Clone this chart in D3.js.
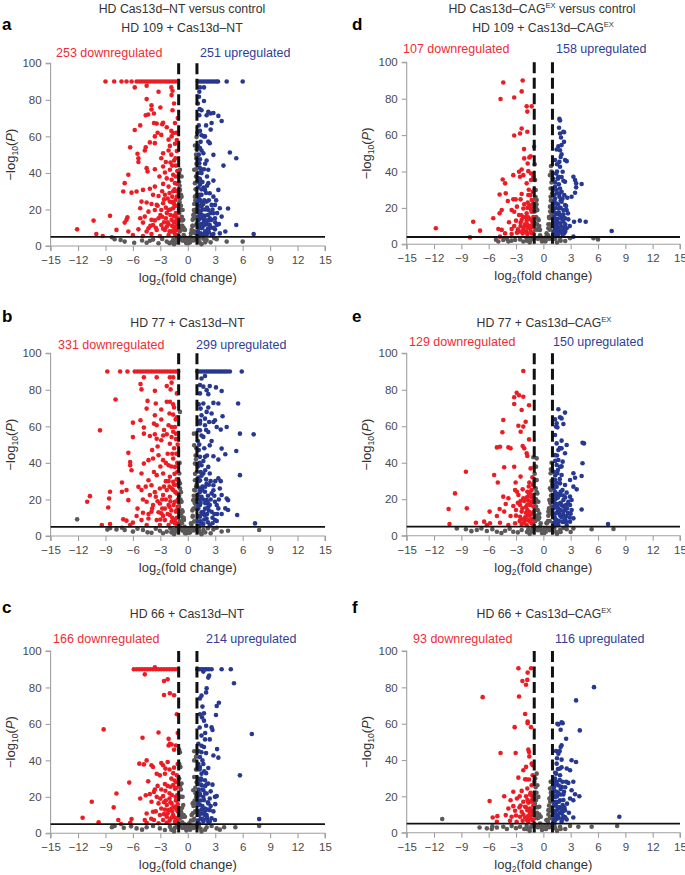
<!DOCTYPE html>
<html><head><meta charset="utf-8">
<script src="https://cdn.jsdelivr.net/npm/d3@7"></script>
<style>body{margin:0;background:#fff} svg{display:block} text{font-family:"Liberation Sans",Arial,sans-serif}</style>
</head><body><svg id="c" width="685" height="875"></svg>
<script>
// ---------------- DATA ----------------
const xTicks = [-15,-12,-9,-6,-3,0,3,6,9,12,15];
const yTicks = [0,20,40,60,80,100];
const panelLetters = ["a","b","c","d","e","f"];
const panelTitles = ["HD 109 + Cas13d–NT","HD 77 + Cas13d–NT","HD 66 + Cas13d–NT","HD 109 + Cas13d–CAG","HD 77 + Cas13d–CAG","HD 66 + Cas13d–CAG"];
const titleSup = [false,false,false,true,true,true];
const downCounts = [253,331,166,107,129,93];
const upCounts = [251,299,214,158,150,116];
const pThreshold = [5,5,5,4,5,5];
const fcThreshold = 1;
const capValue = 90;

// Panel a
const aDownCap = [-9.0,-8.05,-7.25,-6.7,-6.15,-5.6,-5.3,-5.0,-4.7,-4.4,-4.1,-3.8,-3.5,-3.2,-2.9,-2.6,-2.3,-2.0,-1.7,-1.4,-1.1];
const aUpCap = [1.1,1.35,1.6,1.85,2.1,2.35,2.6,2.85,3.1,3.3,4.25,6.0];
const aDown = [[-5.8,86.8],[-4.5,87.7],[-3.2,84.4],[-1.8,86.8],[-1.67,85],[-1.77,82.6],[-4.5,80.4],[-3.97,77],[-3.0,75.8],[-1.67,74.3],[-3.97,74.7],[-4.33,72],[-4.6,71.6],[-3.7,72.5],[-3.7,67.3],[-3.4,67],[-2.8,66.6],[-2.7,67.5],[-1.4,67.3],[-5.2,66],[-5.8,63.5],[-1.8,63],[-1.6,61.8],[-3.6,60],[-2.9,60.8],[-2.1,58.2],[-6.3,54],[-5.5,50.5],[-5.4,48],[-5.4,46],[-4.6,54],[-4.15,56.7],[-3.6,56.3],[-4.7,52.3],[-1.96,54.8],[-2.1,52.3],[-1.77,60],[-2.7,50.8],[-2.9,48],[-2.4,46],[-1.9,45.7],[-1.5,46.8],[-4.5,42.6],[-4.4,40.8],[-3.6,42],[-2.7,43.5],[-1.7,44],[-2.5,40.2],[-1.96,41.7],[-6.5,39],[-6.9,34.4],[-7.06,29.8],[-6.15,29.2],[-5.6,29.8],[-4.9,30.7],[-4.15,31.3],[-3.6,32.5],[-2.7,34],[-1.77,36.2],[-1.4,34.4],[-2.1,32.5],[-3.8,28],[-3.2,27.4],[-2.5,28],[-1.7,27],[-5.06,24.3],[-4.5,23.8],[-3.97,23],[-3.4,22.5],[-2.7,23.4],[-1.96,24.3],[-1.34,25.2],[-5.2,20.7],[-4.3,18.8],[-3.6,19.7],[-2.9,19.7],[-2.1,19.7],[-1.6,20.7],[-8.5,16.5],[-6.7,14.3],[-6.6,15.7],[-5.2,15.2],[-4.7,16.1],[-3.97,14.3],[-3.2,15.2],[-2.4,15.2],[-1.77,14.3],[-1.3,16],[-6.9,12.8],[-4.9,12.8],[-3.8,11.5],[-2.9,11.5],[-2.1,11.9],[-1.6,10.6],[-10.3,13.9],[-12.1,9.1],[-10,6.6],[-9.3,5.5],[-6.5,7.9],[-5.4,9.1],[-4.3,9.7],[-3.4,8.8],[-2.5,8.8],[-1.77,7.9],[-1.2,8.8],[-6,6],[-4.9,5.5],[-3.97,6.6],[-3.05,5.5],[-2.1,6],[-1.4,6.6],[-7.8,8.8],[-4.5,7.9],[-2.3,10.6],[-1.2,12],[-1.5,13],[-1.3,18],[-1.1,22],[-1.5,23],[-1.2,30],[-1.6,30],[-1.3,38],[-1.15,41],[-1.2,52],[-1.4,56],[-1.25,62],[-1.1,70],[-1.5,78],[-2.3,18],[-2.6,13],[-3.5,10],[-1.9,17],[-2.2,26],[-2.8,30],[-3.1,38],[-1.8,50],[-1.1,5.5],[-1.3,10],[-1.6,8],[-2.0,8],[-1.05,15],[-1.1,27],[-1.35,48],[-2.3,65],[-3.3,62],[-1.2,58]];
const aDown2 = [[-1.15,6],[-1.4,9],[-1.7,11],[-2.2,13],[-2.7,9.5],[-1.25,14],[-1.55,16.5],[-1.9,20],[-2.4,21],[-3.0,17],[-1.1,18],[-1.35,22],[-1.7,24],[-2.0,29],[-2.6,25.5],[-1.2,27],[-1.45,31],[-1.15,34],[-1.6,39],[-2.3,37],[-3.3,22],[-3.6,14],[-4.1,11],[-1.3,44],[-2.8,16]];
const aUp = [[1.33,86.8],[1.77,86.8],[1.26,84.4],[1.22,81.7],[1.77,79.4],[1.5,74.3],[2.24,73.4],[2.5,72.5],[2.8,72.8],[3.34,71.2],[3.7,68.4],[2.6,67.3],[2.5,63.7],[1.33,63],[1.5,60.6],[1.77,60],[1.26,71.6],[2.06,71.6],[1.88,60],[2.24,57.2],[2.4,56.3],[1.33,53.6],[1.5,52.3],[2.8,49.9],[4.6,51.2],[5.3,48],[1.7,50.8],[1.33,47.5],[2.06,46.8],[1.26,45.3],[1.77,42],[2.24,41.7],[3.9,44],[1.5,39.9],[1.33,36.6],[2.24,34.4],[2.8,35.8],[3.34,30.7],[1.33,33.5],[1.88,30.7],[2.4,28.9],[1.5,28],[2.8,27],[1.33,25.2],[2.06,24.3],[2.97,22.5],[3.5,20.7],[4.4,20.5],[1.5,21.6],[2.24,19.7],[2.8,17.9],[1.26,17.9],[1.88,16.5],[2.4,15.2],[3.7,16.1],[1.77,13.3],[1.33,11.5],[2.4,11.5],[3.16,11.5],[5.3,11.5],[1.5,9.7],[2.24,8.8],[2.97,9.1],[4.1,7.9],[7.2,6.6],[1.33,6.2],[2.06,6],[2.8,6.6],[3.5,6.9],[1.7,15.2],[2.6,14.3],[2.97,15.2],[1.1,8],[1.15,14],[1.1,20],[1.2,26],[1.1,32],[1.15,40],[1.1,55],[1.2,66],[1.1,78],[1.6,10],[1.9,8],[2.1,12],[1.4,19],[1.7,23],[2.0,29],[1.6,35],[2.1,38],[1.3,43],[2.5,10],[2.7,20],[3.2,18],[3.0,13],[1.9,20],[2.3,25],[1.5,31],[1.2,50],[1.4,57],[1.05,62],[1.3,75],[2.0,66]];
const aUp2 = [[1.2,5.5],[1.4,7],[1.7,6.5],[2.3,7.5],[2.6,6],[1.25,10],[1.45,12],[1.8,11.5],[2.0,14],[2.2,9.5],[2.8,10],[1.15,16],[1.35,15],[1.55,17],[2.2,17],[2.5,18],[1.25,22],[1.5,24],[1.8,25],[2.1,21],[2.6,22.5],[1.1,11],[1.3,28],[1.75,32],[2.1,33],[1.2,37],[1.45,42],[1.9,45],[3.1,25],[3.4,12],[1.6,20],[1.9,13],[2.35,14],[1.05,24],[1.35,35]];
const aNS = [[-0.86,41.7],[-0.68,38],[-0.86,30.7],[-0.68,27],[-0.57,19.7],[-0.5,14.3],[-0.31,8.8],[-0.13,3.3],[0.05,1.5],[0.23,3.3],[0.42,8.8],[0.53,14.3],[0.67,19.7],[0.78,27],[0.78,34.4],[0.7,41.7],[0.78,55],[0.96,59.6],[-0.95,35],[-0.9,24],[-0.75,22],[-0.65,16],[-0.6,11],[-0.45,6],[-0.3,4],[-0.2,2],[0.1,2.5],[0.3,5],[0.5,11],[0.6,17],[0.7,23],[0.85,31],[0.9,38],[0.95,45],[0.9,50],[-0.8,9],[-0.9,14],[-0.5,3],[0.6,4],[0.8,7],[-0.95,5],[0.95,12],[-8.3,4.8],[-8,3.7],[-7.35,3.3],[-6.9,2.4],[-5.86,1.8],[-4.15,2.9],[-3.2,1.5],[-2.3,2.4],[-1.6,3.3],[2.06,3.3],[3.16,3.7],[4.25,2.4],[6.0,2.4],[-5,3],[-4.5,1.8],[-3.8,3.5],[-2.8,3.8],[-2,1.5],[-1.3,2],[1.3,2],[1.7,4],[2.5,2],[2.9,4.3]];
const aNS2 = [[-0.98,30],[-0.97,20],[-0.93,18],[-0.88,8],[-0.85,26],[-0.8,20],[-0.75,28],[-0.7,11],[-0.62,14],[-0.55,9],[-0.45,10],[-0.35,5],[-0.25,3],[-0.15,1.5],[0,3],[0.12,4],[0.25,2],[0.35,7],[0.45,4],[0.55,11],[0.62,15],[0.7,8],[0.75,18],[0.82,25],[0.88,16],[0.92,20],[0.97,28],[0.98,35],[-0.6,3],[0.65,3],[-0.8,4],[0.85,4],[-0.95,40],[0.93,48],[0.97,53],[-1.2,4],[-1.5,1],[-1.8,2],[1.2,4],[1.5,1],[1.9,2],[-0.9,33],[0.9,42]];

// Panel b
const bDownCap = [-8.8,-7.4,-6.6,-5.8,-5.5,-5.2,-4.9,-4.6,-4.3,-4.0,-3.7,-3.4,-3.1,-2.8,-2.5,-2.2,-1.9,-1.6,-1.3,-1.05];
const bUpCap = [1.05,1.3,1.55,1.8,2.05,2.3,2.55,2.8,3.05,3.3,3.55,3.8,4.05,4.3,4.6,5.9];
const bDown = [[-4.8,86.8],[-3.4,86.8],[-1.96,86.8],[-1.6,86.8],[-1.77,83.9],[-2.3,82],[-5.17,83.1],[-5.06,80.2],[-3.6,79.4],[-1.88,80.2],[-7.9,74.7],[-4.4,73.9],[-2.3,73.4],[-1.96,73.4],[-3.5,72.5],[-4.5,69.7],[-2.9,69.2],[-1.5,70.3],[-1.6,66.4],[-3.6,66],[-1.33,63.7],[-6,62],[-5.17,63.3],[-2.9,63.7],[-9.6,57.8],[-4.8,59.3],[-3.7,61.5],[-3.4,60.6],[-2.1,60.6],[-1.77,59.6],[-1.4,59.6],[-4.8,56],[-6,54.1],[-4.15,54.7],[-3.6,55.6],[-2.7,55],[-1.77,54.1],[-3.4,53.2],[-2.3,55.6],[-1.6,57],[-2.9,52.4],[-1.96,50.5],[-6.5,45.5],[-6.3,40.5],[-6.3,38.7],[-6.15,36],[-4.8,39.6],[-4.3,41.5],[-3.8,42.4],[-3.2,44.2],[-2.7,41.5],[-1.6,42.4],[-2.1,38.7],[-1.4,37.8],[-5.06,34.2],[-4.3,30.5],[-3.4,33.3],[-2.7,34.2],[-1.96,32.4],[-1.6,29.6],[-7.2,29.3],[-7.2,24.2],[-6.7,25.1],[-8.5,24.2],[-5.4,26.9],[-5.06,25.1],[-3.97,27.8],[-3.05,26],[-2.3,25.1],[-1.6,25.1],[-4.15,22.4],[-3.5,21.5],[-2.7,22.4],[-1.96,21.5],[-1.2,23.3],[-6.5,19.6],[-8.6,20.5],[-10.7,21.8],[-11,18.7],[-8.7,15.6],[-4.5,18.7],[-3.8,16.9],[-3.05,17.8],[-2.1,16.9],[-1.4,18.7],[-5.6,10.9],[-4.9,12.7],[-3.97,13.3],[-2.9,12.4],[-1.96,11.5],[-1.3,13.3],[-7.06,9.1],[-6.7,8.4],[-6,7.3],[-5.06,8.7],[-4.3,9.6],[-3.4,8.7],[-2.5,8.7],[-1.77,7.8],[-9.4,6],[-8.5,6.5],[-6.3,6],[-4.5,6],[-3.05,6],[-2.1,6],[-1.4,6.9],[-1.2,10],[-1.1,16],[-1.3,28],[-1.15,35],[-1.25,45],[-1.1,50],[-1.2,78],[-1.5,48],[-2.4,30],[-2.8,20],[-3.2,13],[-2.5,15],[-1.8,14],[-2.2,45],[-3.0,38],[-3.7,35],[-4.6,27],[-3.3,49],[-2.0,67],[-1.1,5.5],[-1.5,9],[-2.0,27],[-1.8,38],[-2.6,58],[-3.9,47],[-1.3,53]];
const bDown2 = [[-1.15,6.5],[-1.4,8],[-1.7,10],[-2.2,12],[-2.7,11],[-1.25,14],[-1.55,17],[-1.9,19],[-2.4,20],[-3.3,19],[-1.1,20],[-1.35,24],[-1.75,26],[-2.1,30],[-2.6,27],[-1.2,31],[-1.45,34],[-1.15,40],[-1.7,45],[-2.4,40],[-3.6,24],[-3.9,15],[-4.3,12],[-1.3,56],[-2.8,15],[-1.2,65],[-1.6,72],[-5.5,15],[-4.9,20],[-2.0,16],[-3.0,9],[-1.5,28]];
const bUp = [[1.88,87.5],[1.5,86.2],[1.33,82.6],[1.7,81.7],[2.4,82],[3.08,81.3],[3.7,79.3],[2.06,79.8],[1.33,78],[2.24,77.6],[1.7,72.5],[2.8,72.8],[3.34,72.5],[5.5,72.5],[1.4,69.7],[2.24,70.3],[2.06,67.9],[2.6,67],[3.8,65.5],[1.5,66],[1.88,64.2],[2.33,62.4],[1.33,61.5],[2.8,62.4],[2.97,63.3],[1.88,60.6],[3.16,59.6],[4.25,59.6],[3.6,58.2],[7.2,55.6],[2.24,56.9],[1.33,57.8],[5.7,56],[1.7,54.2],[2.4,49.6],[3.7,47.8],[5.3,46.5],[4.1,44.7],[3.34,41.8],[1.33,43.3],[1.88,43.3],[2.8,43.6],[5.7,33.3],[1.5,38.7],[2.24,37.8],[1.7,34.2],[2.4,34.2],[3.34,31.5],[1.33,30.5],[2.06,28.7],[2.8,27.8],[3.5,26],[1.33,26],[1.88,24.2],[2.6,23.3],[3.7,22.4],[4.25,20.5],[4.4,19.6],[1.5,21.5],[2.06,19.6],[2.97,18.7],[1.33,16.9],[2.24,16],[3.16,16.9],[4.1,15.1],[4.4,14.2],[1.7,13.3],[2.6,13.3],[3.34,15.1],[5.4,11.5],[1.33,10.5],[2.06,9.6],[2.97,8.7],[3.16,8.2],[1.5,6.9],[2.4,6],[7.35,6.9],[1.1,8],[1.15,15],[1.1,22],[1.2,30],[1.1,38],[1.2,47],[1.1,52],[1.15,58],[1.6,12],[1.9,18],[2.2,22],[1.6,27],[2.5,30],[1.9,36],[2.9,22],[3.2,12],[2.7,10],[1.8,48],[2.6,52],[1.4,35],[2.1,12],[3.6,30],[1.3,20],[1.8,9]];
const bUp2 = [[1.2,5.5],[1.4,8],[1.7,6.5],[2.2,7.5],[2.7,7],[1.25,11],[1.5,13],[1.85,11.5],[2.3,14],[2.9,12],[1.15,17],[1.4,18],[1.7,20],[2.2,18],[2.5,20],[1.3,24],[1.6,25],[1.9,27],[2.3,28],[2.8,25],[1.15,32],[1.5,33],[2.0,31],[1.3,40],[1.7,41],[2.1,44],[1.25,50],[1.5,55],[2.0,58],[3.0,30],[3.4,20],[3.7,12],[1.9,15],[2.4,17],[1.05,27],[1.35,63],[1.2,72]];
const bNS = [[-12.1,9.1],[-0.93,34.2],[-0.86,28.7],[-0.68,18.7],[-0.57,13.3],[-0.42,8.7],[-0.2,4.2],[0.05,2.4],[0.3,4.2],[0.53,10.5],[0.6,19.6],[0.7,25.1],[0.78,30.5],[0.78,39.6],[0.7,49.6],[0.67,56],[-0.86,67.9],[-0.95,22],[-0.8,12],[-0.65,7],[-0.5,3],[-0.3,1.5],[0.15,1.8],[0.4,6],[0.5,14],[0.65,22],[0.8,34],[0.85,44],[0.9,27],[-0.9,40],[-0.95,16],[0.95,15],[0.95,8],[-0.9,6],[-8.5,4.2],[-7.8,3.6],[-6.9,3.3],[-6,2.4],[-4.9,3.3],[-3.97,1.8],[-3.05,2.9],[-2.3,2.4],[-1.6,3.3],[1.7,3.3],[2.8,3.6],[3.16,4.5],[4.4,2.9],[7.8,3.3],[-8.8,3.5],[-7.2,4.5],[-5.5,4],[-4.4,2],[-3.5,4],[-2.7,1.5],[-1.9,4.2],[-1.2,2.5],[1.3,2.2],[2.2,4.2],[3.7,2.5],[2.5,1.5]];
const bNS2 = [[-0.98,30],[-0.97,20],[-0.93,18],[-0.88,8],[-0.85,26],[-0.8,20],[-0.75,24],[-0.7,11],[-0.62,14],[-0.55,9],[-0.45,10],[-0.35,5],[-0.25,3],[-0.15,1.5],[0,3],[0.12,4],[0.25,2],[0.35,7],[0.45,4],[0.55,11],[0.62,15],[0.7,8],[0.75,18],[0.82,25],[0.88,16],[0.92,20],[0.97,28],[0.98,35],[-0.6,3],[0.65,3],[-0.8,4],[0.85,4],[0.93,48],[-1.2,4],[-1.5,1],[-1.8,2],[1.2,4],[1.5,1],[1.9,2],[0.9,42]];

// Panel c
const cDownCap = [-5.9,-5.6,-5.3,-5.0,-4.7,-4.4,-4.1,-3.8,-3.5,-3.2,-2.9,-2.6,-2.3,-2.0,-1.7,-1.4,-1.1];
const cUpCap = [1.05,1.3,1.55,1.8,2.05,2.3,2.6,3.7,4.7];
const cDown = [[-3.6,91],[-4.7,87.2],[-2.6,83.5],[-2.2,84.5],[-2.6,75.9],[-1.96,76.8],[-1.5,75.7],[-1.2,65.3],[-9.2,57],[-4.95,52.4],[-3.2,55.3],[-2.1,51.8],[-1.96,49.1],[-2.1,48.2],[-1.77,48.7],[-1.3,48.2],[-1.5,45.8],[-4.5,40],[-5.3,38.2],[-4.8,37.8],[-3.97,37.3],[-3.8,36.4],[-2.9,38.5],[-2.7,37.3],[-2.2,39.1],[-2.45,35.5],[-3.4,32.7],[-3.05,31.8],[-2.5,32.7],[-1.2,31.8],[-6.4,27.8],[-4.33,28.5],[-3.6,24],[-3.7,22.7],[-2.9,24],[-2.45,23.3],[-1.9,25.5],[-1.6,26.4],[-1.4,24.5],[-7.8,21.8],[-4.6,20.9],[-4.15,21.5],[-3.4,20],[-2.7,20.4],[-2.0,19.1],[-5.2,19.1],[-10.5,17.3],[-8.1,14.2],[-3.97,17.3],[-3.2,16.4],[-2.3,15.5],[-1.77,16.4],[-1.4,14.5],[-2.9,13.6],[-2.1,12.7],[-4.5,10.9],[-3.8,11.8],[-3.05,10],[-2.3,9.1],[-1.6,10],[-11.5,8.5],[-6.15,7.8],[-7.6,7.3],[-4.7,7.3],[-3.7,7.3],[-2.7,7.3],[-2.0,6.9],[-9.75,6],[-7.3,5.1],[-6.3,5.8],[-4.5,5.8],[-3.2,5.5],[-2.3,5.8],[-1.4,6.4],[-1.2,8],[-1.1,12],[-1.3,18],[-1.15,21],[-1.25,28],[-1.1,38],[-1.5,36],[-1.8,30],[-2.5,27],[-2.0,22],[-1.7,12],[-2.6,17],[-1.9,8],[-3.3,26],[-1.1,55]];
const cDown2 = [[-1.15,6],[-1.4,8.5],[-1.7,9],[-2.2,11],[-2.6,10.5],[-1.25,13],[-1.55,14.5],[-1.9,17],[-2.4,18],[-3.0,19],[-1.1,16],[-1.35,20],[-1.75,21],[-2.2,26],[-1.2,25],[-1.45,29],[-1.6,33],[-2.0,35],[-3.5,12],[-4.0,8],[-1.8,13.5],[-2.5,13]];
const cUp = [[1.7,88.7],[2.24,85.4],[2.33,86.5],[5.05,82.3],[2.06,79.5],[2.0,77.3],[1.33,74],[1.5,75.5],[1.6,69.5],[3.16,69.8],[3.4,71.6],[1.33,65.3],[1.77,65.8],[1.55,63.6],[2.0,59],[2.6,58.1],[3.08,64.9],[1.77,61.8],[2.7,56.7],[7.0,54.5],[1.5,53.6],[1.88,51.5],[2.4,51.5],[1.15,49.1],[1.77,47.3],[1.5,44.5],[1.33,41.8],[2.8,42.7],[3.2,46.2],[3.34,41.5],[2.24,35.8],[5.7,31.8],[1.33,36.4],[1.5,32.7],[1.88,29.1],[2.24,27.3],[2.7,26.7],[1.5,26.4],[1.7,23.6],[2.06,21.8],[2.4,19.1],[2.97,20],[3.16,20.4],[1.33,20.9],[1.77,18.2],[2.24,16.4],[1.33,15.5],[1.88,13.6],[2.4,12.7],[1.5,10.9],[2.06,10],[2.6,8.2],[2.97,7.3],[1.7,7.3],[2.24,6.4],[7.8,7.8],[1.1,7],[1.15,12],[1.1,18],[1.2,24],[1.1,30],[1.15,38],[1.6,15],[1.9,22],[2.1,27],[1.4,29],[1.6,40],[1.2,45],[2.0,33],[1.85,10],[2.5,15],[1.3,58]];
const cUp2 = [[1.2,5.5],[1.4,8],[1.7,6.5],[2.1,8],[2.4,6.5],[1.25,10],[1.5,13],[1.85,12],[2.2,13],[1.15,16],[1.4,18],[1.7,20],[2.2,17],[1.3,22],[1.6,24],[1.9,26],[2.5,23],[1.15,27],[1.45,30],[1.8,34],[1.3,35],[1.7,38],[2.0,44],[1.5,48],[1.9,55],[2.8,12],[3.0,16],[1.05,20],[2.1,8.5],[1.6,8]];
const cNS = [[-0.86,44.5],[-0.8,36.4],[-0.68,27.3],[-0.57,20],[-0.5,15.5],[-0.31,9.1],[-0.05,4.5],[0.16,5.5],[0.42,10],[0.53,16.4],[0.6,23.6],[0.7,30.9],[0.7,40],[0.7,45],[-0.95,30],[-0.9,20],[-0.75,12],[-0.6,6],[-0.4,3],[0.3,2.5],[0.6,7],[0.8,12],[0.85,22],[0.9,35],[-0.9,10],[0.95,42],[-8.3,3.3],[-8,4],[-5.6,2.7],[-4.5,3.3],[-3.05,2.7],[-1.96,3.6],[2.06,3.3],[3.16,2.7],[3.97,3.3],[5.2,3.3],[7.8,4],[-7,3],[-6.2,3.8],[-5,2],[-3.8,4],[-2.5,1.8],[-1.4,3],[1.4,2.5],[2.6,4],[3.5,2]];
const cNS2 = [[-0.98,30],[-0.97,20],[-0.93,38],[-0.88,8],[-0.85,26],[-0.8,20],[-0.75,24],[-0.7,11],[-0.62,14],[-0.55,9],[-0.45,10],[-0.35,5],[-0.25,3],[-0.15,1.5],[0,3],[0.12,4],[0.25,2],[0.35,7],[0.45,4],[0.55,11],[0.62,15],[0.7,8],[0.75,18],[0.82,25],[0.88,16],[0.92,20],[0.97,28],[0.98,35],[-0.6,3],[0.65,3],[-0.8,4],[0.85,4],[-1.2,4],[-1.5,1],[-1.8,2],[1.2,4],[1.5,1],[1.9,2],[0.9,42],[-0.95,46]];

// Panel d
const dDownCap = [];
const dUpCap = [];
const dDown = [[-4.4,88.9],[-2.27,90],[-2.38,84],[-4.7,79.8],[-3.2,80.7],[-1.83,75.8],[-1.28,75.8],[-1.76,72.9],[-2.38,63.6],[-1.76,61.8],[-2.56,60.9],[-3.2,59.8],[-2.12,52.3],[-2.1,47.2],[-1.54,47.7],[-1.4,48.4],[-1.72,44.4],[-2.38,41.1],[-2.67,39.9],[-1.65,40.2],[-1.35,38.9],[-2.2,38],[-2.56,37.1],[-3.3,38],[-1.1,37.1],[-4.46,35.6],[-4.2,33.5],[-1.83,33.5],[-1.35,35.3],[-4.8,27.4],[-4.13,28],[-2.38,27.6],[-1.65,27.1],[-1.17,28.9],[-3.9,23.8],[-3.3,24.7],[-3.04,24.7],[-2.5,24.7],[-1.72,22.9],[-1.28,24.3],[-2.9,20.7],[-2.2,19.7],[-1.54,21.6],[-4.57,18.8],[-3.48,18.8],[-3.2,17.9],[-4.8,17],[-5.5,14.3],[-1.83,17],[-1.28,17.9],[-2.67,16.1],[-2.2,14.8],[-1.65,14.8],[-7.7,12.4],[-3.77,12.1],[-2.38,13.3],[-1.83,13],[-1.28,13.3],[-11.8,8.8],[-6.95,7.5],[-4.94,8.4],[-4.57,7.9],[-3.48,8.4],[-2.8,8.2],[-2.2,8.2],[-1.65,8.8],[-1.17,9.7],[-4.2,6],[-3.48,5.7],[-2.9,6.4],[-2.27,6],[-1.76,5.7],[-1.28,6],[-8.05,3.8],[-4.76,4.2],[-1.2,11],[-1.1,15],[-1.4,20],[-1.15,22],[-1.5,10],[-2.0,11],[-1.9,7],[-1.4,7],[-2.5,10],[-3.0,13]];
const dDown2 = [[-1.15,6.5],[-1.4,9],[-1.7,10],[-2.1,9.5],[-2.6,7],[-1.25,13],[-1.55,14],[-1.9,15],[-2.4,16],[-1.1,18],[-1.35,19],[-1.75,20],[-2.1,22],[-1.2,24],[-1.45,27],[-1.6,30],[-3.2,10],[-1.8,11],[-2.5,12]];
const dUp = [[1.76,68.9],[1.83,68],[1.72,64],[2.27,61.6],[1.94,58.7],[1.83,60.9],[2.2,61.8],[2.27,56.3],[1.65,53.9],[2.0,54.5],[1.46,52.1],[1.83,51.7],[2.0,49.5],[1.28,46.3],[1.76,45.3],[2.38,46.3],[2.56,45.7],[1.83,42.6],[2.12,39.9],[1.39,38.9],[1.65,37.1],[3.3,37.1],[3.48,35.3],[3.6,33.5],[4.2,33.1],[2.2,34.9],[2.38,34.4],[3.6,31.3],[1.28,31.6],[1.83,30.7],[3.48,28.3],[1.46,28],[2.0,28.9],[2.63,25.6],[3.1,26.1],[1.28,25.2],[1.76,26.1],[1.39,22.5],[2.0,23.4],[2.38,21.6],[1.65,19.7],[2.2,18.8],[2.56,18.8],[1.39,17],[1.83,16.1],[2.38,14.3],[2.74,13.7],[3.37,12.4],[4.0,13],[4.65,12.4],[1.46,11.5],[2.0,9.7],[2.56,8.8],[1.28,8.2],[1.83,6.9],[2.27,6],[7.5,7.3],[3.3,4.2],[1.1,7],[1.15,12],[1.1,18],[1.2,24],[1.1,30],[1.6,14],[1.9,20],[2.1,15],[1.4,9],[2.4,11],[1.7,33],[2.3,27],[1.5,40],[1.1,36],[2.1,5.5],[1.6,5.2]];
const dUp2 = [[1.2,5.5],[1.4,7],[1.7,8],[2.1,7.5],[2.4,7],[1.25,10],[1.5,12.5],[1.85,11.5],[2.2,12.5],[1.15,15],[1.4,16.5],[1.7,17.5],[2.2,16.5],[1.3,20],[1.6,22],[1.9,24],[2.5,21],[1.15,27],[1.45,30],[1.8,28],[1.3,34],[1.6,36],[2.0,37],[1.5,44],[1.9,48],[2.7,17],[2.9,10],[1.05,22],[1.3,14],[1.6,9.5],[2.0,14],[2.3,9],[1.2,17.5],[1.8,20],[2.1,25]];
const dNS = [[-1.02,53.6],[-0.9,35.3],[-0.84,29.8],[-0.73,24.3],[-0.66,18.8],[-0.51,13.3],[-0.37,7.9],[-0.18,3.3],[0.07,2.4],[0.37,4.2],[0.55,8.8],[0.66,14.3],[0.73,20.7],[0.8,26.1],[0.8,30.7],[0.73,38],[0.84,43],[-0.95,44],[-0.9,25],[-0.8,15],[-0.6,8],[-0.4,4],[0.2,1.5],[0.5,5],[0.7,11],[0.85,18],[0.9,34],[-0.95,12],[0.95,10],[-4.94,1.5],[-4.4,2.4],[-3.84,1.5],[-3.1,2.4],[-2.56,2.7],[-1.83,3.3],[1.83,2.4],[2.93,3.3],[5.5,3.3],[6.0,2.7],[-4,3],[-3.5,2],[-2.2,1.5],[-1.4,2.5],[1.3,3],[2.4,1.8],[-5.2,2.5]];
const dNS2 = [[-0.98,30],[-0.97,20],[-0.93,18],[-0.88,8],[-0.85,26],[-0.8,20],[-0.75,22],[-0.7,11],[-0.62,14],[-0.55,9],[-0.45,10],[-0.35,5],[-0.25,3],[-0.15,1.5],[0,3],[0.12,3.5],[0.25,2],[0.35,6],[0.45,4],[0.55,11],[0.62,15],[0.7,8],[0.75,18],[0.82,24],[0.88,16],[0.92,20],[0.97,28],[0.98,36],[-0.6,3],[0.65,3],[-0.8,3.5],[0.85,3.5],[-1.2,3],[-1.5,1],[-1.8,2],[1.2,3],[1.5,1],[1.9,2],[0.9,40]];

// Panel e
const eDownCap = [];
const eUpCap = [];
const eDown = [[-2.2,90.3],[-2.93,78.4],[-2.67,77],[-3.2,75.9],[-2.2,76.2],[-3.2,72.2],[-1.57,71.5],[-2.38,68.9],[-4.4,63.4],[-1.94,62.5],[-2.74,60.3],[-2.2,59.8],[-4.5,56.7],[-2.49,57],[-1.57,52.8],[-5.1,48.4],[-4.76,48.8],[-3.84,48.4],[-3.6,47.9],[-2.27,49.2],[-2.1,47.9],[-1.83,45.2],[-1.76,43.7],[-4.3,37.5],[-3.2,37.8],[-1.4,36.9],[-8.5,35.1],[-5.4,33.3],[-2.5,32.4],[-5.0,29.2],[-3.04,29.2],[-1.54,29.1],[-3.1,25],[-2.9,24.1],[-2.27,25.4],[-1.76,24.1],[-1.28,25],[-9.7,23.2],[-4.4,21.4],[-3.84,20.5],[-2.74,22.3],[-2.2,20.5],[-1.65,19.2],[-1.28,18.6],[-4.13,17.4],[-3.3,16.3],[-2.56,16.8],[-1.9,15.9],[-1.46,16.8],[-10.4,14.6],[-8.4,15],[-5.9,13.2],[-4.8,14.6],[-4.3,13.2],[-3.0,14.1],[-2.38,13.2],[-1.76,14.1],[-5.1,10.8],[-3.6,10.8],[-2.56,10.4],[-2.0,10.1],[-1.46,11.3],[-10.3,6.4],[-7.4,7.1],[-6.5,7.7],[-5.85,6.8],[-4.76,7.1],[-3.84,5.9],[-3.1,6.8],[-2.38,6.4],[-1.83,5.9],[-1.28,6.8],[-6.2,5.9],[-1.2,9],[-1.1,13],[-1.3,21],[-1.15,28],[-1.5,8],[-2.1,7],[-1.7,11],[-1.2,32],[-1.9,20],[-2.8,18],[-2.4,9],[-1.6,22]];
const eDown2 = [[-1.15,6.5],[-1.4,9],[-1.7,8.5],[-2.1,8.5],[-2.6,8],[-1.25,12],[-1.55,13],[-1.9,12.5],[-2.3,15],[-1.1,16],[-1.35,18],[-1.75,17],[-2.1,19],[-1.2,22],[-1.45,24],[-1.6,27],[-3.0,11],[-1.8,21],[-2.5,19]];
const eUp = [[1.65,69.3],[2.38,67.5],[1.28,63.8],[1.83,64.9],[2.0,64.3],[1.46,61.6],[2.2,61.2],[1.39,59.8],[1.54,59.4],[1.28,55.2],[2.0,52.1],[2.56,49.7],[4.3,51],[4.46,50.6],[1.46,50.6],[1.65,47],[2.0,47.9],[2.38,45.2],[1.28,44.2],[1.65,41.5],[2.12,40.6],[4.3,39.7],[1.46,38.8],[1.83,37.8],[3.3,34.2],[4.2,32.7],[1.54,34.2],[2.0,33.3],[3.48,31.8],[1.28,30.5],[2.93,30.5],[1.83,28.7],[2.38,27.8],[3.3,26.9],[3.66,25.4],[1.46,26.9],[1.28,24.1],[2.56,23.6],[1.83,22.3],[2.93,21.4],[1.46,20.5],[2.2,19.6],[3.1,19.6],[1.28,17.7],[2.0,16.8],[2.74,18.6],[2.93,16.8],[1.65,15],[2.38,14.1],[3.1,14.1],[4.2,14.4],[1.28,12.2],[1.83,11.3],[2.56,10.8],[3.3,9.5],[1.46,8.6],[2.2,7.7],[2.93,7.7],[1.65,5.9],[2.56,5.9],[7.1,6.4],[1.1,7],[1.15,11],[1.1,16],[1.2,22],[1.1,28],[1.15,35],[1.7,13],[1.9,18],[2.2,11],[1.5,23],[2.1,25],[2.6,15],[1.3,41],[2.4,9]];
const eUp2 = [[1.2,5.5],[1.4,7],[1.7,8],[2.1,7.5],[2.5,7.5],[1.25,10],[1.5,12.5],[1.85,11],[2.2,13],[2.7,12.5],[1.15,15],[1.4,16.5],[1.7,17.5],[2.2,16],[2.5,17],[1.3,20],[1.6,21],[1.9,24],[2.4,21],[1.15,26],[1.45,29],[1.8,31],[1.3,33],[1.6,36],[2.0,38],[1.5,44],[1.8,48],[2.9,10],[1.05,19],[1.3,9],[1.6,13.5],[2.0,10],[3.0,12],[2.2,22],[1.9,14]];
const eNS = [[-0.73,42.4],[-0.8,37.8],[-0.73,30.5],[-0.66,23.2],[-0.55,18.6],[-0.44,12.2],[-0.29,6.8],[-0.07,2.2],[0.18,3.1],[0.37,6.8],[0.55,13.2],[0.66,19.6],[0.73,26],[0.8,34.2],[0.84,36.4],[-0.95,38],[-0.9,26],[-0.8,16],[-0.65,9],[-0.45,4],[0.1,1.5],[0.5,8],[0.7,14],[0.85,22],[0.9,30],[-0.95,10],[0.95,12],[-1.1,43],[-9.5,4],[-8.5,3.5],[-7.3,3.1],[-6.2,2.6],[-5.1,2.2],[-4.2,2.7],[-3.3,2.2],[-2.38,3.1],[-1.65,3.5],[1.83,3.1],[2.56,3.5],[3.3,4],[5.3,3.5],[7.7,3.7],[-7.9,2.5],[-6.8,4],[-5.6,3.6],[-4.6,1.5],[-3.7,3.8],[-2.8,1.8],[-1.3,2.2],[1.4,2],[2.2,4.2],[3.0,2]];
const eNS2 = [[-0.98,30],[-0.97,20],[-0.93,18],[-0.88,8],[-0.85,26],[-0.8,20],[-0.75,24],[-0.7,11],[-0.62,14],[-0.55,9],[-0.45,10],[-0.35,5],[-0.25,3],[-0.15,1.5],[0,3],[0.12,4],[0.25,2],[0.35,7],[0.45,4],[0.55,11],[0.62,15],[0.7,8],[0.75,18],[0.82,25],[0.88,16],[0.92,20],[0.97,28],[0.98,35],[-0.6,3],[0.65,3],[-0.8,4],[0.85,4],[-1.2,4],[-1.5,1],[-1.8,2],[1.2,4],[1.5,1],[1.9,2],[0.9,40],[-0.95,34]];

// Panel f
const fDownCap = [];
const fUpCap = [];
const fDown = [[-2.74,90.5],[-1.35,90.5],[-1.72,88.1],[-2.3,83.5],[-1.76,84.1],[-1.9,81.4],[-6.66,74.6],[-2.67,75],[-2.0,65.3],[-1.72,61.2],[-3.15,58.1],[-1.35,58.1],[-1.72,60.3],[-4.7,43.9],[-3.04,43.9],[-1.65,45.7],[-1.57,44.4],[-1.54,42],[-1.28,38],[-1.17,37.1],[-2.2,34.4],[-1.9,36.2],[-2.74,30.3],[-2.0,29.4],[-1.83,29.3],[-1.57,29.3],[-1.17,31.6],[-3.3,22.5],[-2.38,23],[-1.76,24.3],[-1.28,26.1],[-4.3,20.1],[-3.6,17.9],[-5.9,17.4],[-2.9,18.8],[-2.2,17],[-1.65,16.5],[-1.28,17.9],[-3.3,14.6],[-3.84,13.3],[-2.63,13.9],[-2.0,14.3],[-1.46,13.3],[-3.1,12.1],[-2.38,11.5],[-1.76,12.4],[-5.05,9.1],[-5.56,8.4],[-4.13,9.7],[-3.48,8.8],[-2.56,8.8],[-2.0,8.4],[-1.35,9.7],[-5.1,6],[-3.66,6.6],[-2.93,6],[-2.27,6.6],[-1.65,6],[-1.17,6.9],[-1.2,12],[-1.1,20],[-1.4,22],[-1.5,10],[-1.9,20],[-2.6,20]];
const fDown2 = [[-1.15,7],[-1.4,8],[-1.7,9],[-2.2,10],[-1.25,11],[-1.55,12],[-1.9,14],[-1.1,15],[-1.35,17],[-1.75,18],[-1.2,20],[-1.45,21],[-2.5,15],[-3.0,9.5],[-1.8,7]];
const fUp = [[5.56,80.1],[3.59,72.8],[1.54,60],[2.0,60.7],[4.0,56.3],[1.65,59.6],[2.12,60.3],[1.9,56.7],[2.5,51.7],[2.0,48.1],[1.9,47.2],[1.39,45],[1.65,43.5],[2.0,40.2],[3.1,39.9],[3.59,38.9],[1.46,38],[1.83,35.3],[2.56,35.3],[2.93,34.4],[1.39,32.5],[1.83,31.6],[1.28,29.8],[2.5,28],[2.74,27.4],[3.29,28],[1.46,27.1],[2.0,25.2],[3.1,23.4],[1.46,22.5],[2.27,22.5],[3.48,21.2],[3.95,20.1],[1.28,19.7],[2.93,18.8],[1.83,17.9],[3.29,17.9],[1.39,16.1],[2.12,15.2],[1.65,13.3],[2.38,12.4],[1.28,11.5],[2.0,10.6],[1.46,8.8],[3.29,8.4],[2.56,7.3],[1.28,6.9],[2.0,6],[8.34,8.8],[1.1,7],[1.15,12],[1.1,17],[1.2,23],[1.1,28],[1.6,10],[1.8,14],[2.2,18],[1.5,20],[2.4,25],[1.7,26],[2.2,9],[1.3,15],[1.9,21],[2.6,16]];
const fUp2 = [[1.2,5.5],[1.4,7.5],[1.7,8],[2.1,7.5],[2.4,8.5],[1.25,10],[1.5,12.5],[1.85,11],[2.2,12],[1.15,15],[1.4,17],[1.7,17],[2.3,14],[1.3,20],[1.6,22],[1.9,24],[2.2,21],[1.15,25],[1.45,28],[1.8,29],[1.3,33],[1.6,35],[2.0,36],[1.5,41],[1.8,45],[2.8,11],[1.05,21],[1.3,9],[1.6,14],[2.0,13],[2.1,28],[1.25,26]];
const fNS = [[-11.1,7.5],[-7.0,2.9],[-6.2,2.4],[-5.67,2],[-5.1,2.9],[-4.4,3.3],[-3.48,3.7],[-2.56,3.3],[-1.83,3.7],[1.83,3.3],[2.93,3.7],[3.84,3.3],[5.3,3.3],[8.1,3.7],[-0.73,32.5],[-0.66,26.1],[-0.55,19.7],[-0.44,14.3],[-0.29,8.8],[-0.07,3.3],[0.18,2.9],[0.37,6.9],[0.55,12.4],[0.66,18.8],[0.73,24.3],[0.8,28],[-0.9,30],[-0.85,22],[-0.75,14],[-0.6,8],[-0.4,4],[0.3,2],[0.5,6],[0.7,12],[0.85,20],[0.9,24],[-0.95,10],[0.95,9],[-4,2],[-3,2.5],[-2.1,2],[-1.4,3],[1.3,2.5],[2.4,2],[-5.6,3.5]];
const fNS2 = [[-0.98,28],[-0.97,20],[-0.93,16],[-0.88,8],[-0.85,25],[-0.8,18],[-0.75,22],[-0.7,11],[-0.62,14],[-0.55,9],[-0.45,10],[-0.35,5],[-0.25,3],[-0.15,1.5],[0,3],[0.12,4],[0.25,2],[0.35,7],[0.45,4],[0.55,10],[0.62,15],[0.7,8],[0.75,17],[0.82,22],[0.88,14],[0.92,18],[0.97,25],[-0.6,3],[0.65,3],[-0.8,4],[0.85,4],[-1.2,4],[-1.5,1],[-1.8,2],[1.2,4],[1.5,1],[1.9,2]];

// ---------------- LAYOUT ----------------
const C = {red:"#ec1c24", blue:"#263891", gray:"#5e5959", redT:"#ee2d36", blueT:"#2f3d96", text:"#333", tick:"#4a4a4a", axis:"#a0a0a0"};
const layout = [
  {x:[50.6,325], y:[246,63.3], letterX:2, letterY:30, tY:31.5, tX:182, dX:56, uX:200, lY:57},
  {x:[50.6,325], y:[536,353.2], letterX:2, letterY:321.5, tY:326.5, tX:187.5, dX:58, uX:196, lY:348.5},
  {x:[50.6,325], y:[833.3,651], letterX:2, letterY:613, tY:618, tX:187, dX:53, uX:206, lY:642.7},
  {x:[406.7,680], y:[244.3,62.3], letterX:352, letterY:30, tY:31.5, tX:543, dX:403, uX:556, lY:52.5},
  {x:[406.7,680], y:[535.7,353.3], letterX:352, letterY:321.5, tY:326.5, tX:544, dX:409, uX:553, lY:345.7},
  {x:[406.7,680], y:[832.7,651], letterX:352, letterY:613, tY:617.5, tX:544, dX:413, uX:555, lY:643.3}
];
const series = [
  {ns:aNS.concat(aNS2), dn:aDown.concat(aDown2), up:aUp.concat(aUp2), dc:aDownCap, uc:aUpCap},
  {ns:bNS.concat(bNS2), dn:bDown.concat(bDown2), up:bUp.concat(bUp2), dc:bDownCap, uc:bUpCap},
  {ns:cNS.concat(cNS2), dn:cDown.concat(cDown2), up:cUp.concat(cUp2), dc:cDownCap, uc:cUpCap},
  {ns:dNS.concat(dNS2), dn:dDown.concat(dDown2), up:dUp.concat(dUp2), dc:dDownCap, uc:dUpCap},
  {ns:eNS.concat(eNS2), dn:eDown.concat(eDown2), up:eUp.concat(eUp2), dc:eDownCap, uc:eUpCap},
  {ns:fNS.concat(fNS2), dn:fDown.concat(fDown2), up:fUp.concat(fUp2), dc:fDownCap, uc:fUpCap}
];

const svg = d3.select("#c");
const FONT = '"Liberation Sans",Arial,sans-serif';

function supTitle(g, x, y, main, sup, rest, size){
  const t = g.append("text").attr("x",x).attr("y",y).attr("text-anchor","middle")
    .attr("font-size",size).attr("fill",C.text);
  t.append("tspan").text(main);
  if(sup){ t.append("tspan").attr("font-size",size*0.62).attr("dy",-5).text("EX");
    if(rest) t.append("tspan").attr("dy",5).text(rest); }
  else if(rest) t.append("tspan").text(rest);
  return t;
}
supTitle(svg, 182, 12.5, "HD Cas13d–NT", false, " versus control", 12.3);
supTitle(svg, 542, 12.5, "HD Cas13d–CAG", true, " versus control", 12.3);

panelLetters.forEach((L,i)=>{
  const lay = layout[i], s = series[i];
  const x = d3.scaleLinear().domain([-15,15]).range(lay.x);
  const y = d3.scaleLinear().domain([0,100]).range(lay.y);
  const g = svg.append("g");

  const ya = g.append("g").attr("transform",`translate(${lay.x[0]},0)`)
    .call(d3.axisLeft(y).tickValues(yTicks).tickSize(5).tickPadding(4).tickFormat(d3.format("d")));
  const xa = g.append("g").attr("transform",`translate(0,${lay.y[0]})`)
    .call(d3.axisBottom(x).tickValues(xTicks).tickSize(5).tickPadding(5).tickFormat(d3.format("d")));
  [ya,xa].forEach(a=>{
    a.select(".domain").attr("stroke",C.axis).attr("stroke-width",1.1);
    a.selectAll(".tick line").attr("stroke",C.axis).attr("stroke-width",1.1);
    a.selectAll(".tick text").attr("fill",C.tick).attr("font-size",11.5).attr("font-family",FONT);
  });
  ya.select(".domain").attr("d",`M-5,${lay.y[1]}H0V${lay.y[0]}H-5`);
  xa.select(".domain").attr("d",`M${lay.x[0]},5V0H${lay.x[1]}V5`);

  const xl = g.append("text").attr("x",(lay.x[0]+lay.x[1])/2).attr("y",lay.y[0]+36)
    .attr("text-anchor","middle").attr("font-size",13).attr("fill",C.text);
  xl.append("tspan").text("log");
  xl.append("tspan").attr("font-size",8.5).attr("dy",3).text("2");
  xl.append("tspan").attr("dy",-3).text("(fold change)");
  const ycx = lay.x[0]-36, ycy = (lay.y[0]+lay.y[1])/2;
  const yl = g.append("text").attr("transform",`translate(${ycx},${ycy}) rotate(-90)`)
    .attr("text-anchor","middle").attr("font-size",13).attr("fill",C.text);
  yl.append("tspan").text("−log");
  yl.append("tspan").attr("font-size",8.5).attr("dy",3).text("10");
  yl.append("tspan").attr("dy",-3).text("(");
  yl.append("tspan").attr("font-style","italic").text("P");
  yl.append("tspan").text(")");

  const r = 2.3;
  g.append("g").selectAll("circle").data(s.ns).join("circle")
    .attr("cx",d=>x(d[0])).attr("cy",d=>y(d[1])).attr("r",r).attr("fill",C.gray);
  g.append("g").selectAll("circle").data(s.dn.concat(s.dc.map(v=>[v,capValue]))).join("circle")
    .attr("cx",d=>x(d[0])).attr("cy",d=>y(d[1])).attr("r",r).attr("fill",C.red);
  g.append("g").selectAll("circle").data(s.up.concat(s.uc.map(v=>[v,capValue]))).join("circle")
    .attr("cx",d=>x(d[0])).attr("cy",d=>y(d[1])).attr("r",r).attr("fill",C.blue);

  g.append("line").attr("x1",x(-15)).attr("x2",x(15)).attr("y1",y(pThreshold[i])).attr("y2",y(pThreshold[i]))
    .attr("stroke","#111").attr("stroke-width",1.8);
  [-fcThreshold, fcThreshold].forEach(v=>{
    g.append("line").attr("x1",x(v)).attr("x2",x(v)).attr("y1",y(100)).attr("y2",y(0))
      .attr("stroke","#111").attr("stroke-width",3).attr("stroke-dasharray","11,4.5");
  });

  g.append("text").attr("x",lay.letterX).attr("y",lay.letterY).attr("font-size",17).attr("font-weight","bold").attr("fill","#000").text(L);
  supTitle(g, lay.tX, lay.tY, panelTitles[i], titleSup[i], null, 12.3);
  g.append("text").attr("x",lay.dX).attr("y",lay.lY).attr("font-size",12.5).attr("fill",C.redT).text(downCounts[i]+" downregulated");
  g.append("text").attr("x",lay.uX).attr("y",lay.lY).attr("font-size",12.5).attr("fill",C.blueT).text(upCounts[i]+" upregulated");
});
</script></body></html>
